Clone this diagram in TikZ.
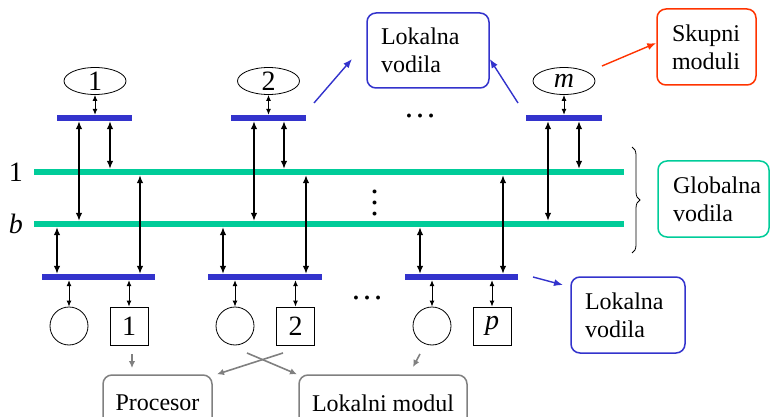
\documentclass[tikz,border=0pt]{standalone}
\usepackage{fontspec}
\setmainfont{Liberation Serif}
\newfontfamily\tmsf{Liberation Serif}
\usetikzlibrary{arrows.meta,decorations.pathreplacing,shapes.geometric}
\definecolor{gbus}{HTML}{00CC99}
\definecolor{lbus}{HTML}{3333CC}
\definecolor{redc}{HTML}{FF3300}
\definecolor{grayc}{HTML}{808080}
\begin{document}
\begin{tikzpicture}[x=1pt,y=-1pt,
  lbar/.style={fill=lbus,draw=none,minimum height=6pt,inner sep=0pt},
  gbar/.style={fill=gbus,draw=none,minimum height=6pt,inner sep=0pt},
  bigarr/.style={{Latex[length=8pt,width=6.5pt]}-{Latex[length=8pt,width=6.5pt]},line width=1.3pt},
  smallarr/.style={{Latex[length=6pt,width=5pt]}-{Latex[length=6pt,width=5pt]},line width=0.9pt},
  ell/.style={ellipse,draw,line width=0.8pt,minimum width=62pt,minimum height=27pt,inner sep=0pt,font=\tmsf\fontsize{28}{30}\selectfont},
  circ/.style={circle,draw,line width=0.8pt,minimum size=38pt,inner sep=0pt},
  sq/.style={rectangle,draw,line width=0.8pt,minimum size=38pt,inner sep=0pt,font=\tmsf\fontsize{28}{30}\selectfont},
  lbl/.style={inner sep=0pt,font=\tmsf\fontsize{28}{30}\selectfont},
  infobox/.style={rectangle,rounded corners=9pt,line width=1.5pt,align=left,inner xsep=14pt,inner ysep=0pt,font=\tmsf\fontsize{24}{28}\selectfont},
  graybox/.style={rectangle,rounded corners=9pt,line width=1.5pt,draw=grayc,inner sep=0pt,font=\tmsf\fontsize{24}{28}\selectfont},
  dotsn/.style={inner sep=0pt,text height=3.3pt,text depth=0pt,font=\tmsf\fontsize{33}{33}\selectfont},
  bluearr/.style={-{Latex[length=9pt,width=7pt]},line width=1.4pt,draw=lbus,fill=lbus},
  redarr/.style={-{Latex[length=9pt,width=7pt]},line width=1.4pt,draw=redc,fill=redc},
  grayarr/.style={-{Latex[length=7pt,width=6.5pt]},line width=1.6pt,draw=grayc,fill=grayc}
]
\useasboundingbox (0,0) rectangle (771,417);
\clip (0,0) rectangle (771,417);

% global buses
\node[gbar,minimum width=590pt] (g1) at (329,172) {};
\node[gbar,minimum width=590pt] (gb) at (329,224) {};
\node[lbl] (l1) at (16,172) {1};
\node[lbl] (lb) at (16,224) {\itshape b};

% top modules
\node[ell] (e1) at (95,81) {1};
\node[ell] (e2) at (268.5,81) {2};
\node[ell] (em) at (564,81) {\itshape m};
\node[lbar,minimum width=75pt] (t1) at (94.5,118) {};
\node[lbar,minimum width=75pt] (t2) at (268.5,118) {};
\node[lbar,minimum width=76pt] (tm) at (564,118) {};
\draw[smallarr] (e1.south) -- (t1.north -| e1.south);
\draw[smallarr] (e2.south) -- (t2.north -| e2.south);
\draw[smallarr] (em.south) -- (tm.north -| em.south);
\draw[bigarr] (t1.south -| 79,0) -- (gb.north -| 79,0);
\draw[bigarr] (t1.south -| 110,0) -- (g1.north -| 110,0);
\draw[bigarr] (t2.south -| 254,0) -- (gb.north -| 254,0);
\draw[bigarr] (t2.south -| 284,0) -- (g1.north -| 284,0);
\draw[bigarr] (tm.south -| 548,0) -- (gb.north -| 548,0);
\draw[bigarr] (tm.south -| 579,0) -- (g1.north -| 579,0);

% bottom modules
\node[lbar,minimum width=113pt] (bA) at (98.5,277) {};
\node[lbar,minimum width=114pt] (bB) at (265,277) {};
\node[lbar,minimum width=113pt] (bC) at (461.5,277) {};
\draw[bigarr] (bA.north -| 57,0) -- (gb.south -| 57,0);
\draw[bigarr] (bA.north -| 140,0) -- (g1.south -| 140,0);
\draw[bigarr] (bB.north -| 223,0) -- (gb.south -| 223,0);
\draw[bigarr] (bB.north -| 306,0) -- (g1.south -| 306,0);
\draw[bigarr] (bC.north -| 420,0) -- (gb.south -| 420,0);
\draw[bigarr] (bC.north -| 503,0) -- (g1.south -| 503,0);

\node[circ] (cA) at (69,326) {};
\node[sq] (sA) at (129,326) {1};
\node[circ] (cB) at (235,326) {};
\node[sq] (sB) at (295.5,326) {2};
\node[circ] (cC) at (432,326) {};
\node[sq] (sC) at (492,326) {\itshape p};
\draw[smallarr] (bA.south -| cA.north) -- (cA.north);
\draw[smallarr] (bA.south -| sA.north) -- (sA.north);
\draw[smallarr] (bB.south -| cB.north) -- (cB.north);
\draw[smallarr] (bB.south -| sB.north) -- (sB.north);
\draw[smallarr] (bC.south -| cC.north) -- (cC.north);
\draw[smallarr] (bC.south -| sC.north) -- (sC.north);

% dots
\node[dotsn] (d1) at (420,116) {…};
\node[dotsn] (d2) at (367,298) {…};
\node[dotsn,rotate=90] (d3) at (375,202.5) {…};

% info boxes
\node[infobox,draw=lbus,minimum height=75pt,text width=94pt] (lvT) at (428,50.5) {Lokalna\\vodila};
\node[infobox,draw=redc,minimum height=76pt,text width=69pt,inner xsep=15pt] (sk) at (706.5,47) {Skupni\\moduli};
\node[infobox,draw=gbus,minimum height=76pt,text width=81pt,inner xsep=15pt] (gv) at (713.5,199) {Globalna\\vodila};
\node[infobox,draw=lbus,minimum height=76pt,text width=86pt] (lvB) at (628,315) {Lokalna\\vodila};
\node[graybox,minimum width=109pt,minimum height=56pt] (pr) at (157.5,403) {Procesor};
\node[graybox,minimum width=168pt,minimum height=56pt] (lm) at (383,403) {Lokalni modul};

% brace
\coordinate (brT) at (632,147);
\coordinate (brB) at (632,253);
\draw[decorate,decoration={brace,amplitude=8pt},line width=0.8pt] (brT) -- (brB);

% blue / red arrows
\coordinate (a1s) at (314,103);
\coordinate (a1e) at (352,59);
\coordinate (a2s) at (518,103);
\draw[bluearr] (a1s) -- (a1e);
\draw[bluearr] (a2s) -- (lvT.east |- 0,59);
\coordinate (a3s) at (602,66);
\draw[redarr] (a3s) -- (sk.west |- 0,43);
\coordinate (a4s) at (533,277);
\coordinate (a4e) at (563,285);
\draw[bluearr] (a4s) -- (a4e);

% gray arrows
\coordinate (g1s) at (132,354);
\coordinate (g1e) at (132,368);
\draw[grayarr] (g1s) -- (g1e);
\coordinate (g2s) at (283,353);
\draw[grayarr] (g2s) -- (pr.north east -| 217,0);
\coordinate (g3s) at (247,353);
\draw[grayarr] (g3s) -- (lm.north west -| 297,0);
\coordinate (g4s) at (420,354);
\coordinate (g4e) at (413,367);
\draw[grayarr] (g4s) -- (g4e);
\end{tikzpicture}
\end{document}
